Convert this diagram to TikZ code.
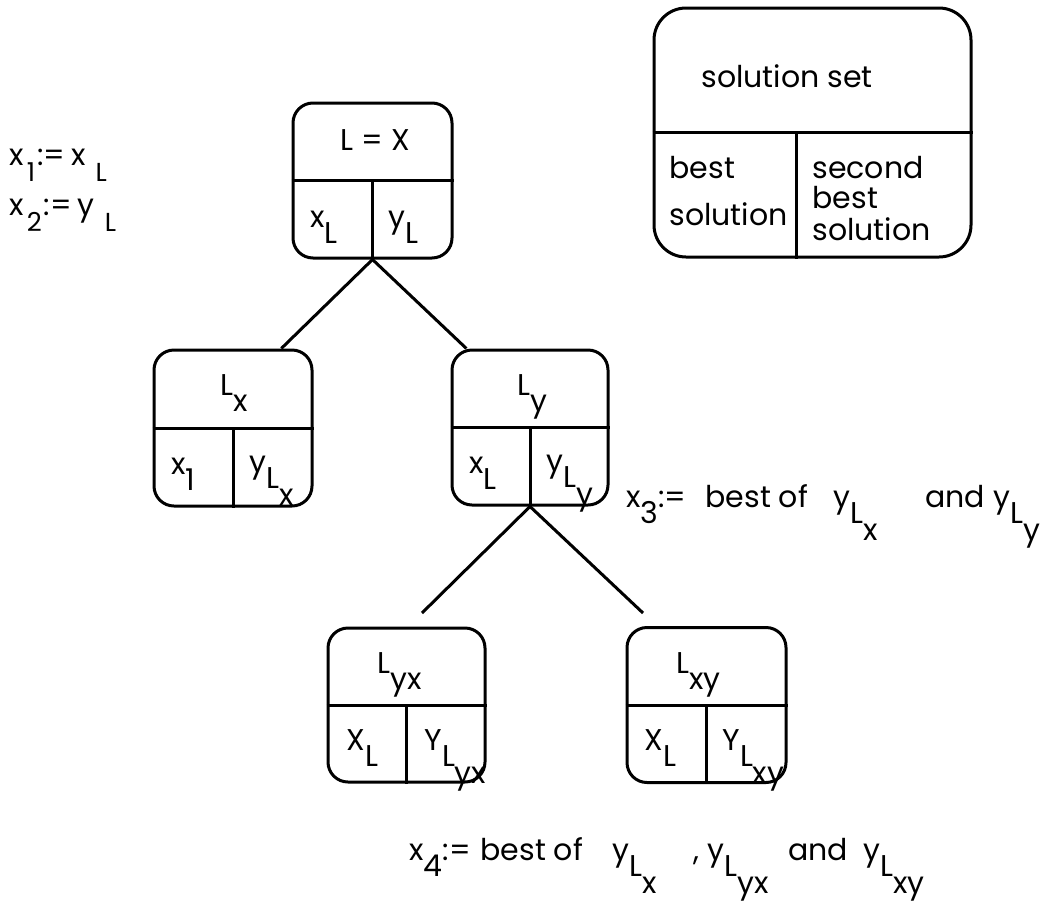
\documentclass[tikz,border=0pt]{standalone}
\usepackage{fontspec}
\setmainfont{Poppins}
\usetikzlibrary{calc}
% lowered (subscript-like) text, full size and reduced size
\newcommand\dn[1]{\raisebox{-0.55em}{#1}}
\newcommand\dnsm[1]{\raisebox{-0.55em}{\fontsize{26}{26}\selectfont #1}}
\begin{document}
\begin{tikzpicture}[x=1pt,y=-1pt,line width=3pt,line join=round,
  treebox/.style={draw,rectangle,rounded corners=20pt,inner sep=0pt},
  lbl/.style={inner sep=0pt,anchor=base west,font=\fontsize{30}{34}\selectfont},
  clbl/.style={inner sep=0pt,anchor=base,font=\fontsize{30}{34}\selectfont}]
\useasboundingbox (0,0) rectangle (1057,911);

% ---- legend box
\node[treebox,rounded corners=32pt,minimum width=317pt,minimum height=249pt] (sol) at (812.5,132.5) {};
\draw (sol.west) -- (sol.east);
\draw ($(sol.west)!0.45!(sol.east)$) -- ($(sol.south west)!0.45!(sol.south east)$);
\node[lbl] (solset) at (700,87) {solution set};
\node[lbl] (best1) at (668,178) {best};
\node[lbl] (sol1) at (668,225) {solution};
\node[lbl] (sec2) at (811,178) {second};
\node[lbl] (best2) at (811,208) {best};
\node[lbl] (sol2) at (811,240) {solution};

% ---- tree boxes
\node[treebox,minimum width=159pt,minimum height=155pt] (root) at (372.5,180.5) {};
\node[treebox,minimum width=158pt,minimum height=156pt] (lx) at (233,428) {};
\node[treebox,minimum width=156pt,minimum height=155pt] (ly) at (530,427.5) {};
\node[treebox,minimum width=157pt,minimum height=154pt] (lyx) at (406.5,705) {};
\node[treebox,minimum width=159pt,minimum height=155pt] (lxy) at (706.5,705) {};
\foreach \b in {root,lx,ly,lyx,lxy}{
  \draw (\b.west) -- (\b.east);
  \draw (\b.center) -- (\b.south);
}

% ---- connectors
\coordinate (ylend) at (422,613);
\coordinate (yrend) at (643,613);
\draw (root.south) -- ($(lx.north west)!0.8!(lx.north east)$);
\draw (root.south) -- ($(ly.north west)!0.1!(ly.north east)$);
\draw (ly.south) -- (ylend);
\draw (ly.south) -- (yrend);

% ---- box texts
\node[clbl] (rt) at (375,150) {L = X};
\node[lbl] (rxl) at (309,227) {x\dn{L}};
\node[lbl] (ryl) at (387,227) {y\dn{L}};

\node[lbl] (lxt) at (219,395) {L\dn{x}};
\node[lbl] (lxa) at (170,474) {x\dn{1}};
\node[lbl] (lxb) at (248,472) {y\dn{L\dn{x}}};

\node[lbl] (lyt) at (516,395) {L\dn{y}};
\node[lbl] (lya) at (468,473) {x\dn{L}};
\node[lbl] (lyb) at (545,471) {y\dn{L\dn{y}}};

\node[lbl] (lyxt) at (376,673) {L\dn{yx}};
\node[lbl] (lyxa) at (345,750) {X\dn{L}};
\node[lbl] (lyxb) at (423,750) {Y\dn{L\dn{yx}}};

\node[lbl] (lxyt) at (675,673) {L\dn{xy}};
\node[lbl] (lxya) at (643,750) {X\dn{L}};
\node[lbl] (lxyb) at (721,750) {Y\dn{L\dn{xy}}};

% ---- assignments
\node[lbl] (as1) at (8,165) {x\kern3pt\dnsm{1}\kern2pt:=\kern6pt x\kern10pt\dnsm{L}};
\node[lbl] (as2) at (8,215) {x\kern3pt\dnsm{2}\kern2pt:=\kern6pt y\kern10pt\dnsm{L}};

\node[lbl] (as3a) at (625,507) {x\dn{3}:=};
\node[lbl] (as3b) at (704,507) {best of};
\node[lbl] (as3c) at (832,507) {y\dn{L\dn{x}}};
\node[lbl] (as3d) at (924,507) {and};
\node[lbl] (as3e) at (992,507) {y\dn{L\dn{y}}};

\node[lbl] (as4a) at (408,860) {x\dn{4}:=};
\node[lbl] (as4b) at (479,860) {best of};
\node[lbl] (as4c) at (611,860) {y\dn{L\dn{x}}};
\node[lbl] (as4d) at (692,860) {,};
\node[lbl] (as4e) at (706,860) {y\dn{L\dn{yx}}};
\node[lbl] (as4f) at (787,860) {and};
\node[lbl] (as4g) at (862,860) {y\dn{L\dn{xy}}};
\end{tikzpicture}
\end{document}
